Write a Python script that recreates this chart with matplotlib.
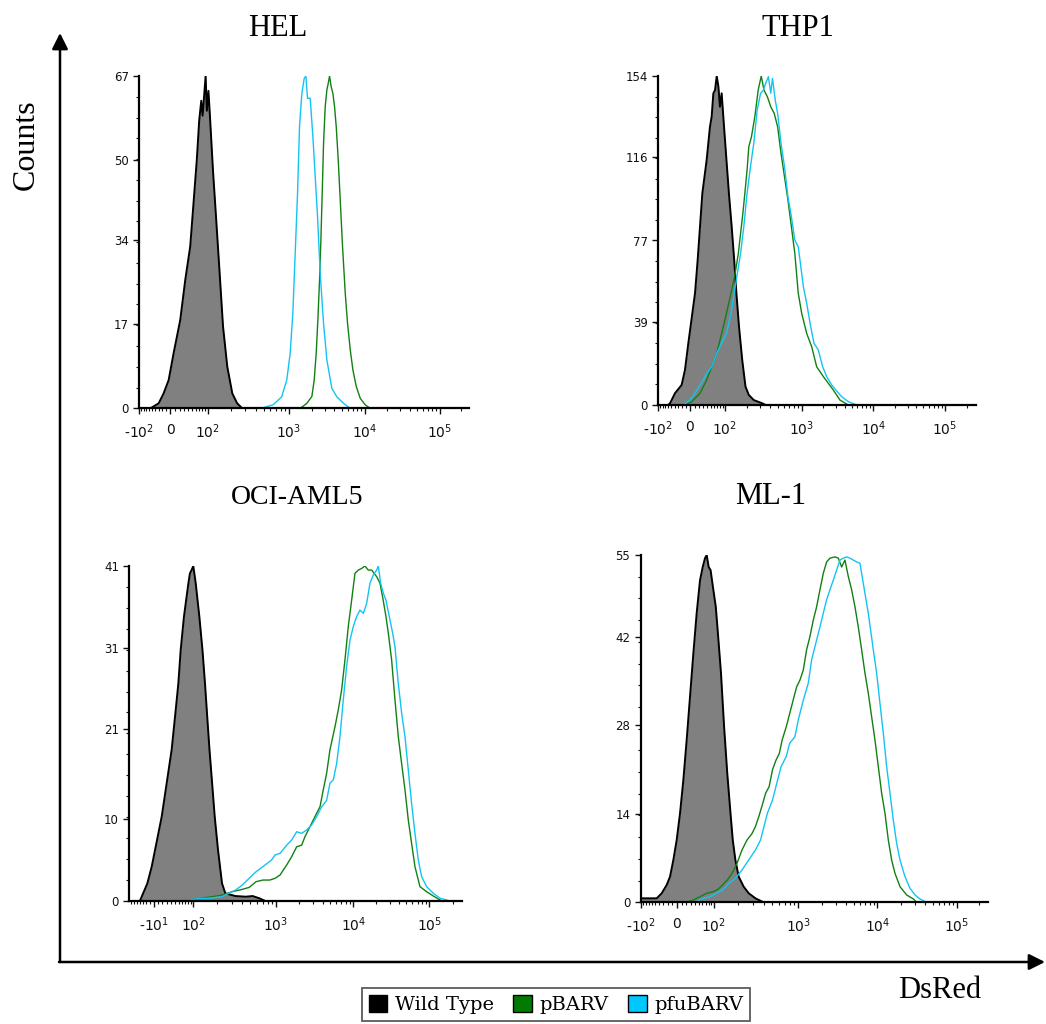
import numpy as np
import matplotlib
matplotlib.use('Agg')
import matplotlib.pyplot as plt
from matplotlib.patches import Patch

plt.rcParams['mathtext.default'] = 'regular'
plt.rcParams['font.family'] = ['DejaVu Sans']

W, H = 1046, 1024
GREEN = '#128012'
CYAN = '#12c4f4'
SERIF = 'Liberation Serif'

# ---- data: DsRed intensity (x) and counts (y) ----
hel_wt_x = [-55, -30, -16.8, -4, 6.9, 21, 32.4, 44.5, 53.3, 62.8, 70.2, 76.9, 81.6, 87, 92.5,
            97.3, 102.9, 108, 118.5, 130, 143, 160, 181, 209, 240, 277]
hel_wt_y = [0, 1.0, 3.0, 5.7, 11.1, 17.8, 25.9, 32.6, 41.3, 50.1, 58, 62, 59, 63, 67,
            60, 64, 58.8, 48, 38.6, 28.6, 16.5, 8.4, 3, 1, 0]
hel_pbarv_x = [1412, 1729, 2014, 2162, 2297, 2416, 2543, 2648, 2757, 2872, 3021, 3178, 3311, 3446,
               3626, 3815, 4013, 4223, 4487, 4769, 5117, 5554, 5957, 6466, 7014, 7762, 8764, 10204, 11880]
hel_pbarv_y = [0, 1, 2.4, 5.7, 11.1, 17.8, 25.9, 33.9, 43.3, 53.4, 60.8, 64.2, 65.5, 67,
               64.8, 63.5, 60.8, 56.8, 50.1, 42, 32.6, 23.2, 17.1, 11.8, 7.7, 4.4, 2, 0.7, 0]
hel_pfu_x = [466, 648, 820, 944, 1041, 1129, 1212, 1302, 1383, 1485, 1594, 1678, 1765, 1914,
             2076, 2229, 2393, 2594, 2872, 3179, 3700, 4307, 5279, 6466]
hel_pfu_y = [0, 0.7, 2.3, 5.7, 11.1, 19.2, 31.2, 43.3, 56.8, 63.5, 66.5, 67, 62.5, 62.5,
             54.8, 46.7, 38.6, 27.2, 17.1, 9.7, 4.0, 2.3, 1.0, 0]

thp_wt_x = [-60, -54, -38.8, -20.7, -12.3, -4.1, 11.1, 17.1, 22.5, 28.1, 39, 48, 52.9, 57.9, 63.2,
            68.7, 74.5, 80, 86.4, 95.9, 105, 113.9, 124.6, 135, 144.8, 157, 165, 173.4, 191.7,
            211.8, 246, 316, 349.5]
thp_wt_y = [0, 0.8, 5.5, 9.4, 16.4, 28.9, 52.3, 67.9, 83.5, 99.1, 114.7, 130.3, 135, 145.9, 147.4,
            154, 149, 139.6, 145.9, 130.3, 114.7, 99.1, 83.5, 67.9, 52.3, 36.7, 28.9, 21.1, 8.6,
            4.7, 2.3, 0.8, 0]
thp_pbarv_x = [-12.3, 3.7, 22.5, 39, 52.9, 68.7, 86.4, 105, 122, 139.2, 153.8, 165, 176.9, 187.9,
               201, 211.8, 229.6, 253.7, 280.4, 306.9, 332.5, 367.5, 406, 449, 496, 548, 606, 670,
               741, 818.5, 904.6, 1000, 1174, 1379, 1619, 2006, 2766, 3427, 4479]
thp_pbarv_y = [0, 1.56, 5.46, 11.7, 17.9, 24.2, 33.5, 42.9, 52.3, 61.6, 71, 80.4, 89.7, 99.1,
               110, 120.9, 125.6, 135, 147.4, 154, 147.4, 144.3, 139.6, 136.5, 130.3, 117.8, 106.9, 96,
               83.5, 71, 52.3, 42.9, 33.5, 27.3, 17.9, 13.3, 7.0, 2.3, 0]
thp_pfu_x = [-16.4, 0, 11.1, 22.5, 30.5, 39, 52.9, 68.7, 86.4, 105, 122, 135, 149.2, 165, 182, 201,
             222.8, 246, 272, 300.8, 326, 349.5, 378.8, 406, 427, 462.6, 496, 548, 606, 670, 741,
             818.5, 904.6, 951, 1055, 1174, 1335, 1486, 1709, 1963, 2233, 2622, 3146, 3615, 4479, 5852]
thp_pfu_y = [0, 2.3, 5.5, 9.4, 11.7, 14.8, 17.9, 24.2, 28.9, 33.5, 42.9, 52.3, 61.6, 71, 83.5, 99.1,
             111.6, 122.5, 138, 145.9, 147.4, 150.6, 153.7, 145.9, 152.9, 142.8, 136.5, 122.5, 111.6,
             97.5, 88.2, 77.2, 74.1, 67.9, 55.4, 47.6, 36.7, 28.9, 25.7, 17.9, 13.3, 9.4, 6.2, 3.9, 1.6, 0]

oci_wt_x = [-48.5, -43.2, -26.8, -15.2, -6.7, 8.7, 19.8, 31.5, 39.9, 48.9, 55.6, 65.7, 80.9, 86.5,
            93, 100, 107.7, 120.4, 132.1, 142.3, 151.9, 162, 174.6, 188, 206.3, 230.6, 253, 334.3,
            441.7, 531.8, 640.4, 736]
oci_wt_y = [0, 0.49, 2.12, 4.17, 6.2, 10.3, 14.4, 18.5, 22.5, 26.6, 30.7, 34.8, 38.9, 40.1,
            40.5, 41, 38.9, 34.8, 30.7, 26.6, 22.5, 18.5, 14.4, 10.3, 6.2, 2.12, 0.9, 0.57,
            0.49, 0.57, 0.29, 0]
oci_pbarv_x = [86.5, 120.4, 174.6, 230.6, 304.7, 402.5, 484.7, 583.6, 702.8, 846, 972.5, 1127, 1374,
               1594, 1850, 2147, 2371, 2753, 3194, 3707, 4093, 4520, 4992, 5794, 6397, 7063, 7801,
               8616, 9515, 10518, 11636, 12870, 14240, 15752, 17430, 20280, 22436, 24320, 26910,
               28870, 31940, 35340, 39090, 43250, 47840, 52920, 58540, 64760, 75360, 92240, 112900, 138100]
oci_pbarv_y = [0.08, 0.29, 0.49, 0.69, 1.1, 1.39, 1.63, 2.33, 2.53, 2.53, 2.74, 3.14, 4.37,
               5.39, 6.6, 6.8, 7.84, 9.07, 10.3, 11.5, 13.6, 15.6, 18.5, 21.3, 23.4, 25.8, 29.5,
               33.6, 36.8, 40.1, 40.5, 40.7, 41, 40.5, 40.5, 39.7, 38.9, 37.2, 34.8,
               32.8, 29.5, 24.6, 20.1, 16.8, 13.6, 9.88, 7.0, 4.17, 1.72, 1.1, 0.57, 0.08]
oci_pfu_x = [86.5, 120.4, 159, 230.6, 277.6, 334.3, 402.5, 484.7, 583.6, 702.8, 886.3, 972.5, 1127,
             1374, 1594, 1850, 2147, 2492, 2892, 3357, 3895, 4520, 4992, 5513, 6088, 6722, 7423,
             8199, 9056, 10000, 11062, 12240, 13540, 14976, 16570, 18335, 20280, 21330, 22890,
             24810, 26910, 29760, 32920, 35340, 39090, 43250, 47840, 52920, 58540, 64760, 71640,
             79260, 92240, 112900, 138100, 169100]
oci_pfu_y = [0.08, 0.29, 0.29, 0.49, 0.9, 1.31, 1.92, 2.74, 3.55, 4.17, 4.98, 5.6, 5.8,
             6.8, 7.43, 8.45, 8.25, 8.66, 9.27, 10.3, 11.5, 12.3, 14.4, 14.8, 16.8, 20.1, 24.6,
             28.7, 31.9, 33.6, 34.8, 35.6, 35.2, 36.4, 38.9, 39.9, 40.5, 41, 38.9,
             37.7, 36.8, 34.8, 32.8, 31.1, 26.6, 23, 20.1, 16, 11.9, 8.25, 4.98,
             2.94, 1.72, 0.9, 0.29, 0.08]

ml_wt_x = [-96, -46.5, -33.6, -21.9, -14.4, -7.2, 0, 6.9, 13.9, 21.0, 28.5, 36.3, 44.6, 53.5, 61.2,
           68.2, 73.5, 80.2, 87, 97.3, 105.6, 112.6, 123.3, 135, 147.9, 162, 172.6, 185.7, 203.4,
           233.1, 267.3, 320.6, 384.6, 402.5]
ml_wt_y = [0.63, 0.63, 1.43, 2.74, 4.06, 6.7, 9.87, 14.1, 19.4, 25.7, 32.6, 39.4, 45.8, 51, 53.1,
           54.5, 55, 53.1, 52.6, 49.5, 46.8, 42.6, 36.3, 27.8, 20.4, 14.1, 9.87, 6.7, 4.06,
           2.48, 1.43, 0.63, 0.1, 0]
ml_pbarv_x = [21.0, 36.3, 53.5, 73.5, 97.3, 112.6, 129, 147.9, 169.5, 194.3, 222.8, 255.4, 292.7,
              320.6, 351.2, 384.6, 421.2, 461.3, 505.3, 553.5, 606.2, 652.1, 727.4, 796.6, 872.4,
              955.5, 1050, 1157, 1275, 1405, 1548, 1707, 1881, 2073, 2284, 2517, 2912, 3209, 3537,
              3897, 4295, 4733, 5216, 5748, 6335, 6981, 7693, 8478, 9343, 10295, 11340, 12490,
              13760, 15160, 16700, 19310, 23430, 28430, 31320]
ml_pbarv_y = [0, 0.37, 0.9, 1.43, 1.69, 2.06, 2.74, 3.54, 4.59, 6.18, 8.29, 9.87, 10.9,
              12, 13.6, 15.4, 17.3, 18.3, 21, 22.5, 23.6, 25.7, 27.8, 29.9, 32,
              34.1, 35.2, 36.8, 40, 42.1, 44.7, 46.8, 49.5, 52.1, 53.9, 54.5, 54.7, 54.5, 53.1,
              54.2, 51.6, 49.5, 46.8, 43.6, 40, 36.3, 33.1, 29.4, 25.7, 21.5, 17.3, 14.1,
              9.87, 6.7, 4.59, 2.48, 1.16, 0.53, 0]
ml_pfu_x = [40.4, 63.1, 84.7, 107.6, 129, 154.8, 185.7, 222.8, 267.3, 320.6, 367.5, 402.5, 440.9,
            505.3, 579.2, 634.6, 727.4, 796.6, 913, 1000, 1157, 1338, 1475, 1626, 1881, 2073, 2284,
            2517, 2773, 3057, 3369, 3712, 4091, 4509, 4969, 5476, 6034, 6335, 6981, 7693, 8899,
            9808, 10805, 11900, 13110, 14440, 15910, 17530, 19310, 22320, 25810, 29840, 34500, 41870]
ml_pfu_y = [0, 0.63, 0.9, 1.43, 1.95, 3.0, 3.8, 5.12, 6.7, 8.29, 9.87, 12, 14.1,
            16.2, 19.4, 21.5, 23.1, 25.2, 26.2, 28.9, 32, 34.7, 38.4, 40.5, 43.6, 45.8, 47.9,
            49.5, 51, 52.6, 54.2, 54.5, 54.7, 54.5, 54.2, 53.9, 53.7, 52.1, 48.9, 45.8, 40,
            36.3, 31.5, 26.8, 21.5, 17.3, 13, 9.34, 6.7, 4.06, 2.22, 1.16, 0.53, 0]

titles = ['HEL', 'THP1', 'OCI-AML5', 'ML-1']
hel_yticks = [0, 17, 34, 50, 67]
thp_yticks = [0, 39, 77, 116, 154]
oci_yticks = [0, 10, 21, 31, 41]
ml_yticks = [0, 14, 28, 42, 55]
legend_labels = ['Wild Type', 'pBARV', 'pfuBARV']

# biexponential-like display: asinh, pinned to where the decades sit on each panel
ANCHOR_VALS = np.array([-100, 0, 100, 1e3, 1e4, 1e5, 262144])


def make_scale(px):
    s = np.arcsinh(ANCHOR_VALS / 60.0)
    p = np.array(px, float)

    def lin(u, a, b):
        out = np.interp(u, a, b)
        out = np.where(u < a[0], b[0] + (u - a[0]) * (b[1] - b[0]) / (a[1] - a[0]), out)
        out = np.where(u > a[-1], b[-1] + (u - a[-1]) * (b[-1] - b[-2]) / (a[-1] - a[-2]), out)
        return out

    def fwd(x):
        return lin(np.arcsinh(np.asarray(x, float) / 60.0), s, p)

    def inv(y):
        return 60.0 * np.sinh(lin(np.asarray(y, float), p, s))

    return fwd, inv


MINOR = ([-v for v in range(10, 100, 10)] + list(range(10, 100, 10)) +
         [m * 10 ** k for k in (2, 3, 4) for m in range(2, 10)] + [200000])

panels = [
    dict(box=(139.3, 469.3, 76, 408.3), anchors=[139, 170, 207.3, 288.7, 364.5, 439.5, 469.3],
         yt=hel_yticks, xt=[-100, 0, 100, 1e3, 1e4, 1e5],
         xl=['-$10^{2}$', '0', '$10^{2}$', '$10^{3}$', '$10^{4}$', '$10^{5}$'],
         data=(hel_wt_x, hel_wt_y, hel_pbarv_x, hel_pbarv_y, hel_pfu_x, hel_pfu_y),
         title=(278, 28, 22)),
    dict(box=(658.3, 975.7, 76, 405), anchors=[658.3, 690, 725, 801.7, 873.3, 945, 975.7],
         yt=thp_yticks, xt=[-100, 0, 100, 1e3, 1e4, 1e5],
         xl=['-$10^{2}$', '0', '$10^{2}$', '$10^{3}$', '$10^{4}$', '$10^{5}$'],
         data=(thp_wt_x, thp_wt_y, thp_pbarv_x, thp_pbarv_y, thp_pfu_x, thp_pfu_y),
         title=(798, 28, 22)),
    dict(box=(129.3, 461.7, 566, 900.7), anchors=[127, 157.7, 193.3, 276, 353.3, 429.3, 461.7],
         yt=oci_yticks, xt=[-10, 100, 1e3, 1e4, 1e5],
         xl=['-$10^{1}$', '$10^{2}$', '$10^{3}$', '$10^{4}$', '$10^{5}$'],
         data=(oci_wt_x, oci_wt_y, oci_pbarv_x, oci_pbarv_y, oci_pfu_x, oci_pfu_y),
         title=(297, 497, 20)),
    dict(box=(640.7, 988.3, 555, 902.3), anchors=[640.7, 676.7, 714, 798.3, 877.3, 956.7, 988.3],
         yt=ml_yticks, xt=[-100, 0, 100, 1e3, 1e4, 1e5],
         xl=['-$10^{2}$', '0', '$10^{2}$', '$10^{3}$', '$10^{4}$', '$10^{5}$'],
         data=(ml_wt_x, ml_wt_y, ml_pbarv_x, ml_pbarv_y, ml_pfu_x, ml_pfu_y),
         title=(771, 497, 22)),
]

fig = plt.figure(figsize=(W / 100, H / 100), dpi=100)

for name, p in zip(titles, panels):
    l, r, t, b = p['box']
    ax = fig.add_axes([l / W, 1 - b / H, (r - l) / W, (b - t) / H])
    fwd, inv = make_scale(p['anchors'])
    ax.set_xscale('function', functions=(fwd, inv))
    x0, x1 = float(inv(l)), float(inv(r))
    ax.set_xlim(x0, x1)
    ax.set_ylim(0, p['yt'][-1])

    wx, wy, gx, gy, cx, cy = p['data']
    ax.fill_between(wx, wy, 0, color='#808080', lw=0)
    ax.plot(wx, wy, color='black', lw=1.4)
    ax.plot(gx, gy, color=GREEN, lw=1.0)
    ax.plot(cx, cy, color=CYAN, lw=1.0)

    ax.set_xticks(p['xt'])
    ax.set_xticklabels(p['xl'])
    ax.set_xticks([m for m in MINOR + [0] if x0 < m < x1 and m not in p['xt']], minor=True)
    ax.set_yticks(p['yt'])
    ax.set_yticklabels([str(v) for v in p['yt']])
    ax.set_yticks(np.linspace(0, p['yt'][-1], 17), minor=True)

    for s in ('top', 'right'):
        ax.spines[s].set_visible(False)
    for s in ('left', 'bottom'):
        ax.spines[s].set_linewidth(1.6)
    ax.tick_params(axis='both', which='major', direction='out', length=4.5, width=1.0,
                   colors='#111111', pad=3)
    ax.tick_params(axis='y', which='major', labelsize=8.5)
    ax.tick_params(axis='x', which='major', labelsize=10, pad=6)
    ax.tick_params(axis='both', which='minor', direction='out', length=2.5, width=0.8,
                   colors='#111111')
    ax.patch.set_alpha(0)

    tx, ty, ts = p['title']
    fig.text(tx / W, 1 - ty / H, name, ha='center', va='center', fontsize=ts, family=SERIF)

# outer axes arrows
fig.add_artist(matplotlib.patches.FancyArrowPatch(
    (60 / W, 1 - 962 / H), (60 / W, 1 - 33 / H), transform=fig.transFigure,
    arrowstyle='-|>', mutation_scale=24, lw=1.8, color='black', shrinkA=0, shrinkB=0))
fig.add_artist(matplotlib.patches.FancyArrowPatch(
    (59 / W, 1 - 962 / H), (1045 / W, 1 - 962 / H), transform=fig.transFigure,
    arrowstyle='-|>', mutation_scale=24, lw=1.8, color='black', shrinkA=0, shrinkB=0))
fig.text(26 / W, 1 - 145 / H, 'Counts', rotation=90, ha='center', va='center',
         fontsize=23, family=SERIF)
fig.text(940 / W, 1 - 990 / H, 'DsRed', ha='center', va='center', fontsize=22, family=SERIF)

handles = [Patch(facecolor='black', edgecolor='black'),
           Patch(facecolor='#007a00', edgecolor='black'),
           Patch(facecolor='#00c8ff', edgecolor='black')]
leg = fig.legend(handles, legend_labels, loc='upper center', bbox_to_anchor=(556 / W, 1 - 988 / H),
                 ncol=3, frameon=True, fancybox=False, edgecolor='#333333',
                 prop={'family': 'DejaVu Serif', 'size': 14}, handlelength=0.95, handleheight=0.95,
                 columnspacing=1.0, handletextpad=0.4, borderpad=0.35, borderaxespad=0)
leg.get_frame().set_linewidth(1.3)

fig.savefig('out.png', dpi=100)
